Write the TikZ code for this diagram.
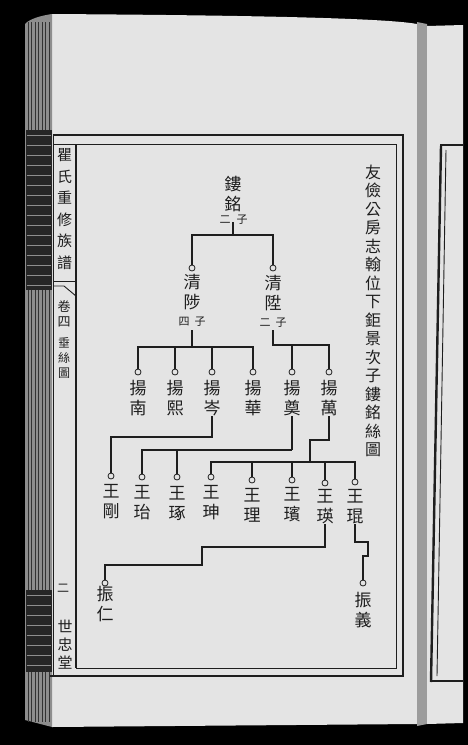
\documentclass[tikz,border=0pt]{standalone}
\usepackage{fontspec}
\newfontfamily\cjk{Noto Sans CJK TC}
\definecolor{ink}{HTML}{1E1E1E}
\definecolor{paper}{HTML}{E4E4E4}
\definecolor{edge}{HTML}{8E8E8E}
\definecolor{gutter}{HTML}{9C9C9C}
\begin{document}
\begin{tikzpicture}[x=1pt,y=-1pt,
  conn/.style={draw=ink,line width=1.1pt},
  knob/.style={circle,draw=ink,fill=paper,line width=0.8pt,minimum size=6pt,inner sep=0pt},
  person/.style={font=\cjk\fontsize{17}{20}\selectfont,align=center,inner sep=0pt,text=ink},
  small/.style={font=\cjk\fontsize{11}{12}\selectfont,inner sep=0pt,text=ink},
  title/.style={font=\cjk\fontsize{16}{18.5}\selectfont,align=center,inner sep=0pt,text=ink},
  side/.style={font=\cjk\fontsize{15}{21.5}\selectfont,align=center,inner sep=0pt,text=ink},
  heavy/.style={draw=ink,line width=2.4pt},
  light/.style={draw=ink,line width=0.9pt}]
\useasboundingbox (0,0) rectangle (468,745);
\fill[black] (0,0) rectangle (468,745);
% main page
\fill[paper] (52,14) .. controls (200,15) and (380,17) .. (417,24) -- (417,724) -- (52,727) -- cycle;
% page stack on the left
\fill[edge] (25,24) .. controls (30,18) and (45,15) .. (52,14) -- (52,727) -- (25,720) -- cycle;
\foreach \x in {28,31,35,38,42,45,49}{\draw[gray!40!black,line width=0.5pt] (\x,22) -- (\x,722);}
\fill[gray!30!black] (26,130) rectangle (52,290);
\fill[gray!30!black] (26,590) rectangle (52,672);
\foreach \y in {135,145,155,165,175,185,195,205,215,225,235,245,255,265,275,285,595,605,615,625,635,645,655,665}{\draw[edge,line width=0.6pt] (27,\y) -- (51,\y);}
% gutter and next page
\fill[gutter] (417,22) -- (427,24) -- (427,724) -- (417,726) -- cycle;
\fill[paper] (427,26) -- (463,25) -- (463,723) -- (427,724) -- cycle;
\draw[heavy] (441,146) -- (431,682);
\draw[light] (446,150) -- (437,676);
\draw[heavy] (440,145) -- (463,145);
\draw[heavy] (431,681) -- (463,681);
% main frame
\draw[heavy] (53,135) -- (403,135) -- (403,676) -- (50,676);
\draw[light] (53,144) -- (396,144) -- (396,668) -- (76,668);
\draw[heavy] (76,144) -- (76,668);
\draw[light] (53,135) -- (53,676);
% left column
\node[side] (booktitle) at (64.5,209) {瞿\\氏\\重\\修\\族\\譜};
\draw[light] (53,281) -- (76,281);
\draw[light] (53,286) -- (64,286) -- (76,296);
\node[font=\cjk\fontsize{13}{15}\selectfont,align=center,inner sep=0pt,text=ink] (juan) at (64,314) {卷\\四};
\node[font=\cjk\fontsize{12}{15}\selectfont,align=center,inner sep=0pt,text=ink] (chart) at (64,358) {垂\\絲\\圖};
\node[font=\cjk\fontsize{12}{14}\selectfont,inner sep=0pt,text=ink] (pageno) at (63,588) {二};
\node[font=\cjk\fontsize{15}{18}\selectfont,align=center,inner sep=0pt,text=ink] (hall) at (65,645) {世\\忠\\堂};
% right title
\node[title] (heading) at (373,311) {友\\儉\\公\\房\\志\\翰\\位\\下\\鉅\\景\\次\\子\\鏤\\銘\\絲\\圖};
% generation 1
\node[person] (lm) at (233,194) {鏤\\銘};
\node[small] (lmA) at (225,220) {二};
\node[small] (lmB) at (242,220) {子};
\coordinate (lmout) at (233,222);
% generation 2
\node[knob] (kzhi) at (192,268) {};
\node[person] (zhi) at (192,292) {清\\陟};
\node[small] (zhiA) at (184,322) {四};
\node[small] (zhiB) at (200,322) {子};
\coordinate (zhiout) at (192,330);
\node[knob] (ksheng) at (273,268) {};
\node[person] (sheng) at (273,293) {清\\陞};
\node[small] (shengA) at (265,323) {二};
\node[small] (shengB) at (281,323) {子};
\coordinate (shengout) at (273,330);
% generation 3
\foreach \n/\x/\t in {y1/138/南,y2/175/熙,y3/212/岑,y4/253/華,y5/292/奠,y6/329/萬}{
  \node[knob] (k\n) at (\x,372) {};
  \node[person] (\n) at (\x,398) {揚\\\t};
}
% generation 4
\foreach \n/\x/\ky/\ty/\t in {w1/111/476/502/剛,w2/142/477/503/珆,w3/177/477/503/琢,w4/211/477/503/珅,w5/252/480/505/理,w6/292/480/505/璸,w7/325/483/507/瑛,w8/355/482/507/琨}{
  \node[knob] (k\n) at (\x,\ky) {};
  \node[person] (\n) at (\x,\ty) {王\\\t};
}
% generation 5
\node[knob] (kz1) at (105,583) {};
\node[person] (z1) at (105,604) {振\\仁};
\node[knob] (kz2) at (363,583) {};
\node[person] (z2) at (363,610) {振\\義};
% connectors
\coordinate (b1) at (233,235);
\draw[conn] (lmout) -- (b1);
\draw[conn] (kzhi.north) -- (kzhi.north |- b1) -- (ksheng.north |- b1) -- (ksheng.north);
\coordinate (b2) at (192,347);
\draw[conn] (zhiout) -- (b2);
\draw[conn] (ky1.north) -- (ky1.north |- b2) -- (ky4.north |- b2) -- (ky4.north);
\draw[conn] (ky2.north) -- (ky2.north |- b2);
\draw[conn] (ky3.north) -- (ky3.north |- b2);
\coordinate (b3) at (273,345);
\draw[conn] (shengout) -- (b3) -- (ky6.north |- b3) -- (ky6.north);
\draw[conn] (ky5.north) -- (ky5.north |- b3);
% 揚岑 -> 王剛
\draw[conn] (y3.south) -- ++(0,8) |- (kw1.north |- 0,437) -- (kw1.north);
% 揚奠 -> 王珆 王琢
\coordinate (b5) at (292,450);
\draw[conn] (y5.south) -- (b5);
\draw[conn] (kw2.north) -- (kw2.north |- b5) -- (b5);
\draw[conn] (kw3.north) -- (kw3.north |- b5);
% 揚萬 -> 王珅 ... 王琨
\coordinate (j6) at (310,440);
\coordinate (b6) at (310,462);
\draw[conn] (y6.south) -- (y6.south |- j6) -- (j6) -- (b6);
\draw[conn] (kw4.north) -- (kw4.north |- b6) -- (kw8.north |- b6) -- (kw8.north);
\foreach \n in {w5,w6,w7}{\draw[conn] (k\n.north) -- (k\n.north |- b6);}
% 王瑛 -> 振仁
\draw[conn] (w7.south) -- (325,547) -- (202,547) -- (202,565) -- (kz1.north |- 0,565) -- (kz1.north);
% 王琨 -> 振義
\draw[conn] (w8.south) -- (355,542) -- (368,542) -- (368,556) -- (kz2.north |- 0,556) -- (kz2.north);
\end{tikzpicture}
\end{document}
